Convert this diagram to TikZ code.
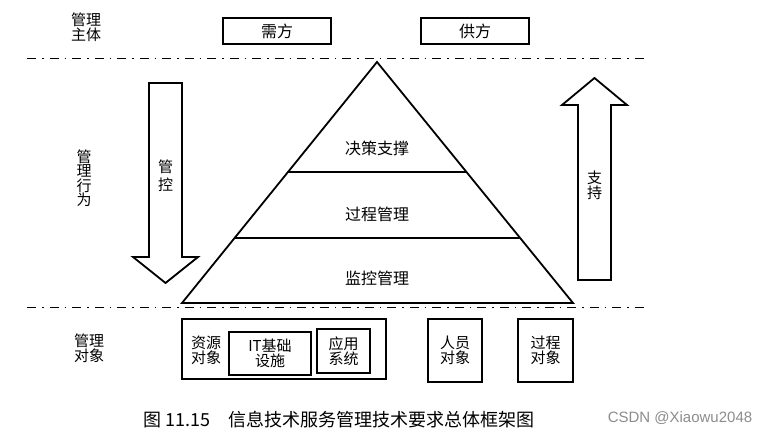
\documentclass[tikz,border=0pt]{standalone}
\usepackage{fontspec}
\newfontfamily\cjk{Noto Sans CJK SC}
\newfontfamily\wmfont{Liberation Sans}
\usetikzlibrary{calc}

\begin{document}
\begin{tikzpicture}[x=1pt, y=-1pt, line join=miter,
    every node/.style={font=\cjk\fontsize{15}{15}\selectfont, align=center, inner sep=0pt},
    sepline/.style={line width=0.8pt, dash pattern=on 9pt off 6pt on 1.5pt off 6pt},
    tbox/.style={draw, line width=1.4pt},
    layer/.style={font=\cjk\fontsize{16}{16}\selectfont},
    blockarrow/.style={draw, line width=1.8pt}]
    \useasboundingbox (0,0) rectangle (771,435);

    % dash-dot separators
    \coordinate (s1l) at (27,58);
    \coordinate (s1r) at (648,58);
    \coordinate (s2l) at (27,307);
    \coordinate (s2r) at (648,307);
    \draw[sepline] (s1l) -- (s1r);
    \draw[sepline] (s2l) -- (s2r);

    % row labels
    \node (zhuti) at (86,27) {管理\\主体};
    \node[font=\cjk\fontsize{15}{14.5}\selectfont] (xingwei) at (84,178) {管\\理\\行\\为};
    \node (duixiang) at (89,348) {管理\\对象};

    % subjects
    \node[tbox, layer, minimum width=108pt, minimum height=26pt] (xufang) at (277,31) {需方};
    \node[tbox, layer, minimum width=108pt, minimum height=26pt] (gongfang) at (475,31) {供方};

    % pyramid
    \coordinate (top) at (377,62);
    \coordinate (bl) at (182,303);
    \coordinate (br) at (573,303);
    \draw[line width=1.8pt] (top) -- (br) -- (bl) -- cycle;
    \draw[line width=2pt] ($(top)!0.456!(bl)$) -- ($(top)!0.456!(br)$);
    \draw[line width=2pt] ($(top)!0.73!(bl)$) -- ($(top)!0.73!(br)$);
    \node[layer] (juece) at (377,148) {决策支撑};
    \node[layer] (guocheng) at (377,214) {过程管理};
    \node[layer] (jiankong) at (377,278) {监控管理};

    % control arrow (down)
    \draw[blockarrow] (149,83) -- (182,83) -- (182,257) -- (198,257) -- (165.5,283)
        -- (133,257) -- (149,257) -- cycle;
    \node[font=\cjk\fontsize{15}{18}\selectfont] (guankong) at (165.5,176) {管\\控};

    % support arrow (up)
    \draw[blockarrow] (578,280) -- (611,280) -- (611,105) -- (627,105) -- (594.5,78)
        -- (562,105) -- (578,105) -- cycle;
    \node (zhichi) at (594.5,185) {支\\持};

    % objects
    \node[tbox, minimum width=204pt, minimum height=60pt] (ziyuan) at (284,349) {};
    \node (ziyuantxt) at (206,350) {资源\\对象};
    \node[tbox, minimum width=82pt, minimum height=43pt] (it) at (270,353.5) {IT基础\\设施};
    \node[tbox, minimum width=53pt, minimum height=44pt] (yingyong) at (343.5,351) {应用\\系统};
    \node[tbox, minimum width=54pt, minimum height=63pt] (renyuan) at (455,350.5) {人员\\对象};
    \node[tbox, minimum width=55pt, minimum height=63pt] (guochengdx) at (545.5,350.5) {过程\\对象};

    % caption
    \node[font=\cjk\fontsize{18}{20}\selectfont] (caption) at (339,420) {图 11.15\quad 信息技术服务管理技术要求总体框架图};
    \node[font=\wmfont\fontsize{15}{17}\selectfont, text=black!45] (mark) at (680,418) {CSDN @Xiaowu2048};
\end{tikzpicture}
\end{document}
